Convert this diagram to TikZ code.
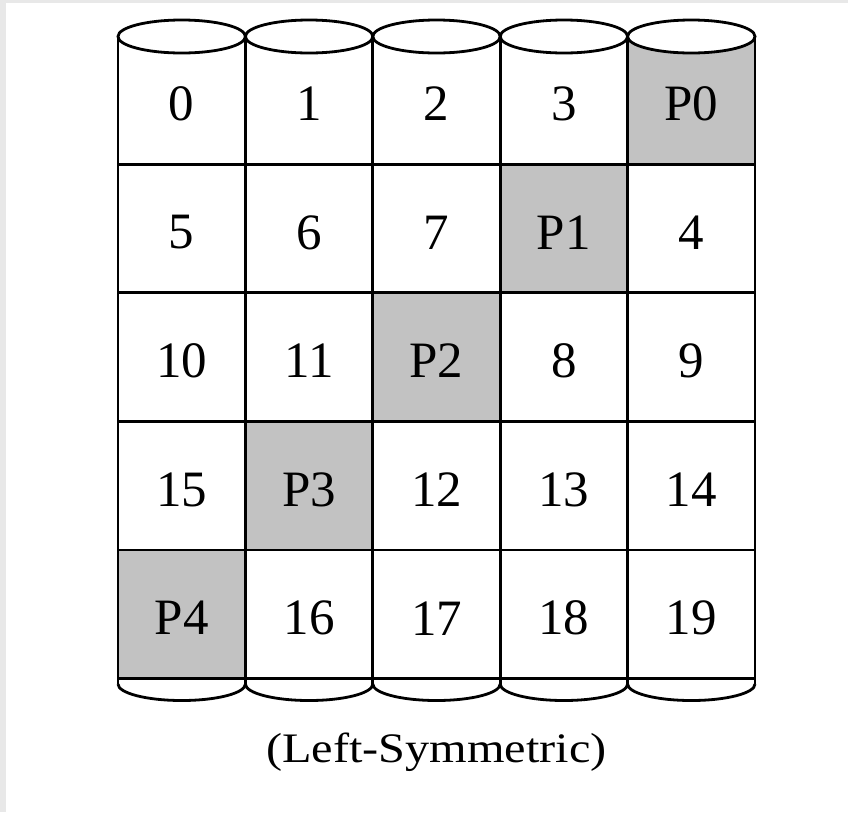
\documentclass[tikz,border=0pt]{standalone}
\usepackage{fontspec}
\usepackage{graphicx}
\setmainfont{Liberation Serif}
\begin{document}
\begin{tikzpicture}[x=1pt,y=-1pt,line width=2.8pt,
  celltext/.style={font=\fontsize{51}{60}\selectfont,inner sep=0pt,anchor=center},
  parity/.style={fill=black!24},
  captext/.style={font=\fontsize{42}{50}\selectfont,inner sep=0pt,anchor=base}]
\useasboundingbox (0,0) rectangle (848,812);
\fill[black!9] (0,0) rectangle (848,812);
\fill[white] (6,3) rectangle (848,812);
\def\cw{127.4}
\def\rh{128.6}
% parity cells
\foreach \c/\r in {4/0,3/1,2/2,1/3,0/4}
  \fill[parity] ({118+\cw*\c},{35.5+\rh*\r}) rectangle +(\cw,\rh);
% vertical lines
\foreach \c in {0,...,5}
  \draw ({118+\cw*\c},36) -- ({118+\cw*\c},684);
% horizontal lines
\foreach \r in {1,...,5}
  \draw (118,{35.5+\rh*\r}) -- (755,{35.5+\rh*\r});
% top ellipses
\foreach \c in {0,...,4}
  \draw[fill=white] ({118+\cw*\c+\cw/2},36.5) ellipse ({\cw/2} and 16.5);
% bottom arcs
\foreach \c in {0,...,4}
  \draw ({118+\cw*\c},684) arc[start angle=180,end angle=0,x radius={\cw/2},y radius=16.5];
% labels
\foreach \row [count=\r from 0] in {{0,1,2,3,P0},{5,6,7,P1,4},{10,11,P2,8,9},{15,P3,12,13,14},{P4,16,17,18,19}}
  \foreach \t [count=\c from 0] in \row
    \node[celltext] (n\r\c) at ({118+\cw*\c+\cw/2},{35.5+\rh*\r+\rh/2+4}) {\t};
\node[captext] (cap) at (436.5,762) {\scalebox{1.15}[1]{(Left-Symmetric)}};
\end{tikzpicture}
\end{document}
